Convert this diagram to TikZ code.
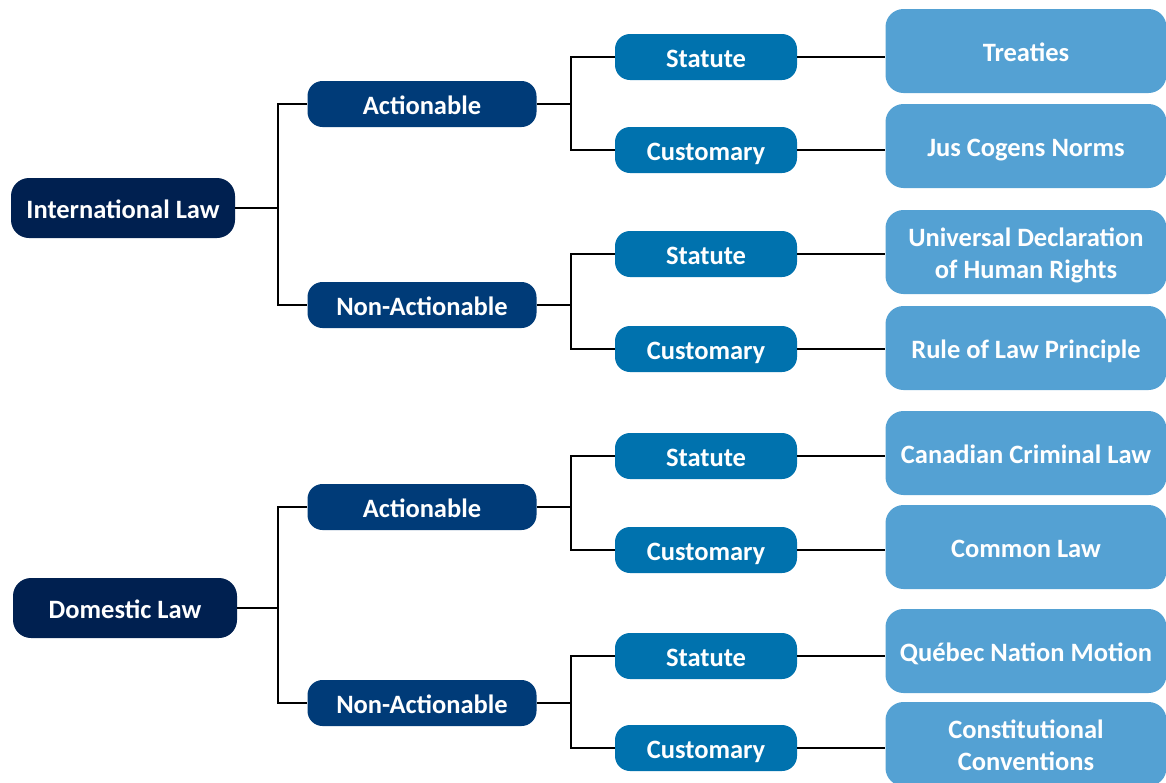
\documentclass[tikz,border=0pt]{standalone}
\usepackage{fontspec}
\setmainfont{Carlito}
\definecolor{cRoot}{HTML}{002050}
\definecolor{cTwo}{HTML}{003B78}
\definecolor{cThree}{HTML}{0072AE}
\definecolor{cFour}{HTML}{54A1D3}
\newcommand{\twolines}[2]{\begin{tabular}[b]{@{}c@{}}#1\\#2\end{tabular}}
\tikzset{
  box/.style={rounded corners=15pt, text=white, font=\fontsize{26.5}{32}\selectfont\bfseries, inner sep=0pt, text height=20pt, text depth=0pt},
  rootbox/.style={box, fill=cRoot, minimum width=224pt, minimum height=60pt, rounded corners=18pt},
  twobox/.style={box, fill=cTwo, minimum width=229pt, minimum height=46pt},
  threebox/.style={box, fill=cThree, minimum width=182pt, minimum height=46pt},
  fourbox/.style={box, fill=cFour, minimum width=281pt, minimum height=84pt, rounded corners=18pt},
  twoline/.style={text height=52pt, text depth=0pt},
  conn/.style={draw=black, line width=2pt}
}
\begin{document}
\begin{tikzpicture}[x=1pt,y=-1pt]
\useasboundingbox (0,0) rectangle (1166,782);
% roots
\node[rootbox] (intl) at (123,208) {International Law};
\node[rootbox] (dom) at (125,608) {Domestic Law};
% level 2
\node[twobox] (ia) at (422,104) {Actionable};
\node[twobox] (in) at (422,305) {Non-Actionable};
\node[twobox] (da) at (422,507) {Actionable};
\node[twobox] (dn) at (422,703) {Non-Actionable};
% level 3
\node[threebox] (ias) at (706,57) {Statute};
\node[threebox] (iac) at (706,150) {Customary};
\node[threebox] (ins) at (706,254) {Statute};
\node[threebox] (inc) at (706,349) {Customary};
\node[threebox] (das) at (706,456) {Statute};
\node[threebox] (dac) at (706,550) {Customary};
\node[threebox] (dns) at (706,656) {Statute};
\node[threebox] (dnc) at (706,748) {Customary};
% level 4
\node[fourbox] (t1) at (1026,51) {Treaties};
\node[fourbox] (t2) at (1026,146) {Jus Cogens Norms};
\node[fourbox, twoline] (t3) at (1026,252) {\twolines{Universal Declaration}{of Human Rights}};
\node[fourbox] (t4) at (1026,348) {Rule of Law Principle};
\node[fourbox] (t5) at (1026,453) {Canadian Criminal Law};
\node[fourbox] (t6) at (1026,547) {Common Law};
\node[fourbox] (t7) at (1026,651) {Québec Nation Motion};
\node[fourbox, twoline] (t8) at (1026,744) {\twolines{Constitutional}{Conventions}};
% connectors root -> level2
\coordinate (j1) at (278,208);
\coordinate (j2) at (278,608);
\draw[conn] (intl.east) -- (j1);
\draw[conn] (ia.west) -| (j1) |- (in.west);
\draw[conn] (dom.east) -- (j2);
\draw[conn] (da.west) -| (j2) |- (dn.west);
% level2 -> level3
\foreach \p/\a/\b/\y in {ia/ias/iac/104, in/ins/inc/305, da/das/dac/507, dn/dns/dnc/703}{
  \coordinate (k\p) at (571,\y);
  \draw[conn] (\p.east) -- (k\p);
  \draw[conn] (\a.west) -| (k\p) |- (\b.west);
}
% level3 -> level4
\foreach \a/\b in {ias/t1, iac/t2, ins/t3, inc/t4, das/t5, dac/t6, dns/t7, dnc/t8}{
  \draw[conn] (\a.east) -- (\a.east -| \b.west);
}
\end{tikzpicture}
\end{document}
